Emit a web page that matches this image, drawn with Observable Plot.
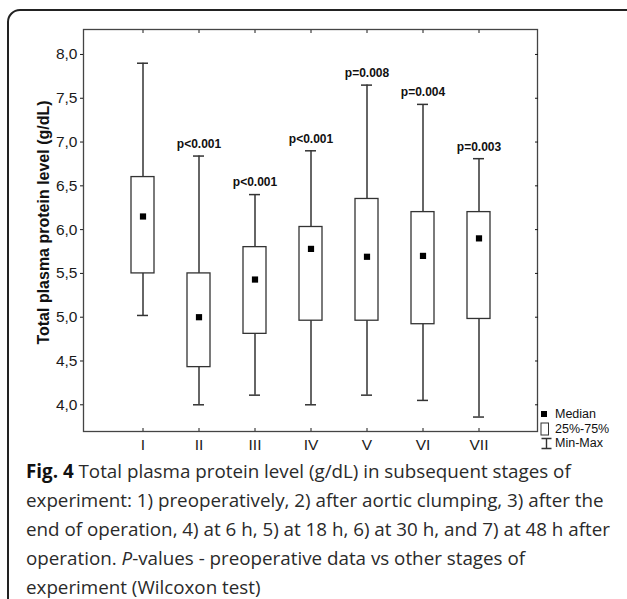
<!DOCTYPE html>
<html><head><meta charset="utf-8">
<script src="https://cdn.jsdelivr.net/npm/d3@7"></script>
<script src="https://cdn.jsdelivr.net/npm/@observablehq/plot@0.6"></script>
<style>
body{margin:0;background:#fff;width:627px;height:599px;overflow:hidden;position:relative;font-family:"Liberation Sans",Arial,sans-serif}
#border{position:absolute;left:7px;top:9px;width:640px;height:660px;border:2.5px solid #222;border-radius:13px;box-sizing:border-box}
#chart{position:absolute;left:0;top:0}
#legend{position:absolute;left:540px;top:407px;font-size:12.5px;color:#111}
#legend .row{display:flex;align-items:center;height:14.5px}
#legend .ico{width:15px;display:flex;align-items:center;justify-content:flex-start}
#caption{position:absolute;left:26px;top:457px;font-family:"Open Sans",sans-serif;font-size:18.8px;line-height:29px;color:#2a2a2a;white-space:nowrap}
#caption b{color:#111}
</style></head><body>
<div id="border"></div>
<div id="chart"></div>
<div id="legend"></div>
<div id="caption"></div>
<script>
const stages = ["I","II","III","IV","V","VI","VII"];
const minVals = [5.02,4.00,4.11,4.00,4.11,4.05,3.86];
const q1Vals = [5.50,4.43,4.81,4.96,4.96,4.92,4.98];
const medianVals = [6.15,5.00,5.43,5.78,5.69,5.70,5.90];
const q3Vals = [6.60,5.50,5.80,6.03,6.35,6.20,6.20];
const maxVals = [7.90,6.84,6.40,6.90,7.65,7.43,6.81];
const pLabels = ["","p<0.001","p<0.001","p<0.001","p=0.008","p=0.004","p=0.003"];
const yTicks = [4.0,4.5,5.0,5.5,6.0,6.5,7.0,7.5,8.0];
const yTitle = "Total plasma protein level (g/dL)";
const legendItems = ["Median","25%-75%","Min-Max"];
const captionLines = [
  ["Fig. 4", " Total plasma protein level (g/dL) in subsequent stages of"],
  ["", "experiment: 1) preoperatively, 2) after aortic clumping, 3) after the"],
  ["", "end of operation, 4) at 6 h, 5) at 18 h, 6) at 30 h, and 7) at 48 h after"],
  ["", "operation. <i>P</i>-values - preoperative data vs other stages of"],
  ["", "experiment (Wilcoxon test)"]
];

const data = stages.map((s,i)=>({stage:s,min:minVals[i],q1:q1Vals[i],median:medianVals[i],q3:q3Vals[i],max:maxVals[i],p:pLabels[i]}));
const fmt = d => d.toFixed(1).replace(".", ",");
const ink = "#333";

const plot = Plot.plot({
  width: 627, height: 460,
  marginLeft: 83, marginRight: 90, marginTop: 29, marginBottom: 29,
  style: {fontFamily: "'Liberation Sans', Arial, sans-serif", color: "#1a1a1a", background: "transparent"},
  x: {type: "band", domain: stages, paddingInner: 0.59, paddingOuter: 0.795},
  y: {domain: [3.695, 8.285]},
  marks: [
    Plot.frame({stroke: "#444", strokeWidth: 1.3}),
    Plot.axisY({anchor: "left", ticks: yTicks, tickSize: 3, tickPadding: 3, tickFormat: fmt, fontSize: 15.5, label: null}),
    Plot.axisY({anchor: "right", ticks: yTicks, tickSize: -3, tickFormat: () => "", label: null}),
    Plot.axisX({anchor: "bottom", tickSize: 0, tickPadding: 7, fontSize: 15.5, label: null}),
    Plot.axisX({anchor: "bottom", tickSize: -3, tickFormat: () => "", label: null}),
    Plot.axisX({anchor: "top", tickSize: -3, tickFormat: () => "", label: null}),
    Plot.ruleX(data, {x: "stage", y1: "min", y2: "max", stroke: ink, strokeWidth: 1.5}),
    Plot.tickY(data, {x: "stage", y: "max", insetLeft: 6, insetRight: 6, stroke: ink, strokeWidth: 1.5}),
    Plot.tickY(data, {x: "stage", y: "min", insetLeft: 6, insetRight: 6, stroke: ink, strokeWidth: 1.5}),
    Plot.barY(data, {x: "stage", y1: "q1", y2: "q3", fill: "white", stroke: ink, strokeWidth: 1.3}),
    Plot.dot(data, {x: "stage", y: "median", symbol: "square", r: 3.5, fill: "black", stroke: "none"}),
    Plot.text(data, {x: "stage", y: "max", text: "p", dy: -12, fontSize: 12, fontWeight: "bold", fill: "#111"}),
    Plot.text([yTitle], {text: d => d, frameAnchor: "left", textAnchor: "middle", lineAnchor: "middle", rotate: -90, dx: -40, dy: -8, fontSize: 16, fontWeight: "bold", fill: "#111"})
  ]
});
document.getElementById("chart").appendChild(plot);

const icons = [
  '<svg width="8" height="8"><rect x="1" y="1" width="6" height="6" fill="#000"/></svg>',
  '<svg width="10" height="14"><rect x="1" y="1" width="7.5" height="12" fill="#fff" stroke="#333" stroke-width="1"/></svg>',
  '<svg width="13" height="13"><path d="M1.5 1.5H11.5M6.5 1.5V11.5M1.5 11.5H11.5" stroke="#333" stroke-width="1.4" fill="none"/></svg>'
];
document.getElementById("legend").innerHTML = legendItems.map((t,i)=>`<div class="row"><span class="ico">${icons[i]}</span><span>${t}</span></div>`).join("");
document.getElementById("caption").innerHTML = captionLines.map(([b,t]) => (b ? `<b>${b}</b>` : "") + t).join("<br>");
</script>
</body></html>
